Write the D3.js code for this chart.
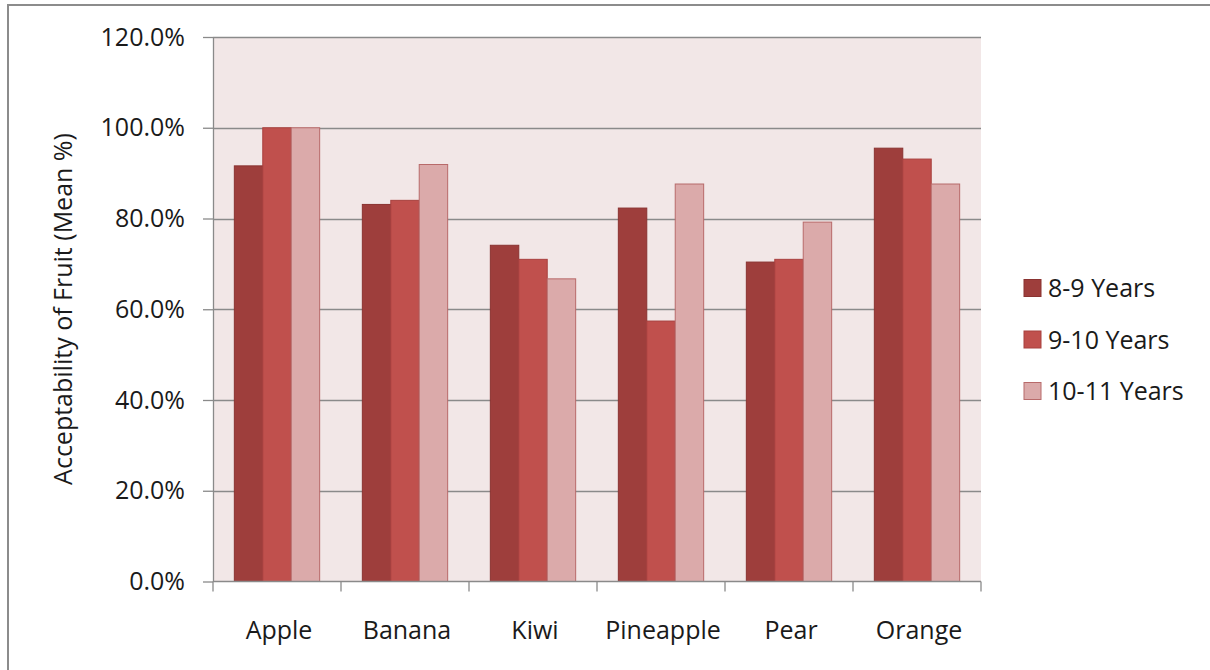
<!DOCTYPE html>
<html>
<head>
<meta charset="utf-8">
<script src="https://cdn.jsdelivr.net/npm/d3@7"></script>
<style>
  html, body { margin: 0; padding: 0; background: #fff; }
  svg { display: block; }
  text { font-family: "Open Sans", "Noto Sans", sans-serif; fill: #1a1a1a; }
</style>
</head>
<body>
<svg id="chart" width="1210" height="670"></svg>
<script>
// Fruit acceptability by age group (mean %)
const categories = ["Apple", "Banana", "Kiwi", "Pineapple", "Pear", "Orange"];
const seriesNames = ["8-9 Years", "9-10 Years", "10-11 Years"];
const age8to9 = [91.6, 83.1, 74.1, 82.3, 70.4, 95.5];
const age9to10 = [100.0, 84.0, 71.0, 57.4, 71.0, 93.1];
const age10to11 = [100.0, 91.9, 66.7, 87.6, 79.2, 87.6];
const yTicks = [0, 20, 40, 60, 80, 100, 120];

const seriesValues = [age8to9, age9to10, age10to11];
const fills = ["#9e3e3c", "#c0504d", "#dbaaaa"];
const strokes = ["#8a3331", "#a8403e", "#b86a6a"];
const fontSize = "25px";

const svg = d3.select("#chart");

// outer frame
svg.append("rect")
  .attr("x", 8).attr("y", 5)
  .attr("width", 1220).attr("height", 680)
  .attr("fill", "none").attr("stroke", "#8c8c8c").attr("stroke-width", 2);

const plot = { left: 213, top: 37, right: 981, bottom: 581.5 };

const x0 = d3.scaleBand()
  .domain(categories)
  .range([plot.left, plot.right])
  .paddingInner(0).paddingOuter(0);

// 150% gap between groups: 3 bars + 1.5 bar widths per category
const barW = x0.bandwidth() / 4.5;
const x1 = d3.scaleBand()
  .domain(seriesNames)
  .range([barW * 0.75, barW * 0.75 + barW * 3]);

const y = d3.scaleLinear().domain([0, 120]).range([plot.bottom, plot.top]);

// plot background
svg.append("rect")
  .attr("x", plot.left).attr("y", plot.top)
  .attr("width", plot.right - plot.left).attr("height", plot.bottom - plot.top)
  .attr("fill", "#f2e7e7");

// horizontal gridlines
svg.append("g")
  .selectAll("line")
  .data(yTicks.filter(t => t > 0))
  .join("line")
  .attr("x1", plot.left).attr("x2", plot.right)
  .attr("y1", d => Math.round(y(d)) + 0.5).attr("y2", d => Math.round(y(d)) + 0.5)
  .attr("stroke", "#8a8a8a").attr("stroke-width", 1.3);

// bars
const groups = svg.append("g")
  .selectAll("g")
  .data(categories)
  .join("g")
  .attr("transform", d => `translate(${x0(d)},0)`);

groups.selectAll("rect")
  .data((c, ci) => seriesNames.map((s, si) => ({ s, si, v: seriesValues[si][ci] })))
  .join("rect")
  .attr("x", d => x1(d.s))
  .attr("y", d => y(d.v))
  .attr("width", x1.bandwidth())
  .attr("height", d => plot.bottom - y(d.v))
  .attr("fill", d => fills[d.si])
  .attr("stroke", d => strokes[d.si])
  .attr("stroke-width", 1);

// y axis
const yAxis = d3.axisLeft(y)
  .tickValues(yTicks)
  .tickSize(10)
  .tickPadding(18)
  .tickFormat(d => d.toFixed(1) + "%");

const gy = svg.append("g")
  .attr("transform", `translate(${plot.left},0)`)
  .call(yAxis);
gy.select(".domain").attr("stroke", "#8a8a8a").attr("stroke-width", 1.3)
  .attr("d", `M0.5,${plot.top}V${plot.bottom}`);
gy.selectAll(".tick line").attr("stroke", "#8a8a8a").attr("stroke-width", 1.3);
gy.selectAll(".tick text").style("font-size", fontSize).attr("fill", "#1a1a1a");

// x axis: ticks at category boundaries
const xEdges = categories.map(c => x0(c)).concat([plot.right]);
const gx = svg.append("g");
gx.append("line")
  .attr("x1", plot.left).attr("x2", plot.right)
  .attr("y1", plot.bottom).attr("y2", plot.bottom)
  .attr("stroke", "#8a8a8a").attr("stroke-width", 1.3);
gx.selectAll(".edge")
  .data(xEdges)
  .join("line")
  .attr("class", "edge")
  .attr("x1", d => d).attr("x2", d => d)
  .attr("y1", plot.bottom).attr("y2", plot.bottom + 10)
  .attr("stroke", "#8a8a8a").attr("stroke-width", 1.3);
gx.selectAll("text")
  .data(categories)
  .join("text")
  .attr("x", d => x0(d) + x0.bandwidth() / 2 + 2)
  .attr("y", 639)
  .attr("text-anchor", "middle")
  .style("font-size", fontSize)
  .text(d => d);

// y axis title
svg.append("text")
  .attr("transform", "translate(72,309) rotate(-90)")
  .attr("text-anchor", "middle")
  .style("font-size", fontSize)
  .text("Acceptability of Fruit (Mean %)");

// legend
const legend = svg.append("g")
  .selectAll("g")
  .data(seriesNames)
  .join("g")
  .attr("transform", (d, i) => `translate(1024,${288 + i * 51.5})`);
legend.append("rect")
  .attr("x", 0).attr("y", -8.5)
  .attr("width", 17).attr("height", 17)
  .attr("fill", (d, i) => fills[i])
  .attr("stroke", (d, i) => strokes[i]);
legend.append("text")
  .attr("x", 24).attr("y", 9)
  .style("font-size", fontSize)
  .text(d => d);
</script>
</body>
</html>
